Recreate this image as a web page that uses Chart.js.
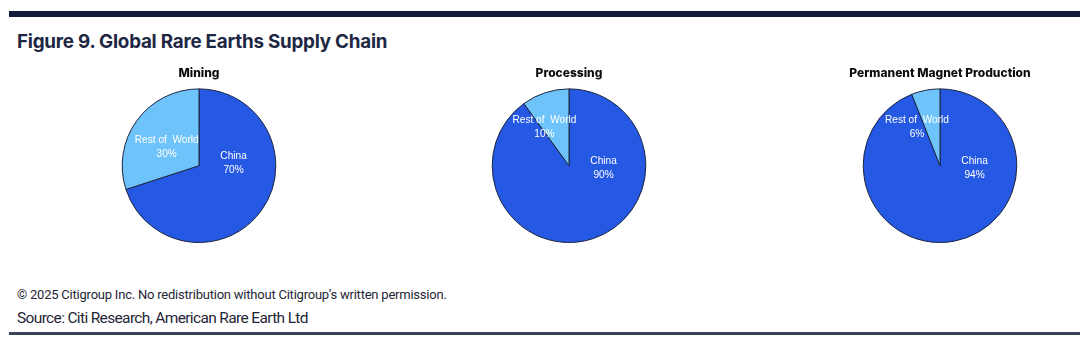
<!DOCTYPE html>
<html>
<head>
<meta charset="utf-8">
<script src="https://cdn.jsdelivr.net/npm/chart.js@4.4.1/dist/chart.umd.min.js"></script>
<style>
  html, body { margin:0; padding:0; background:#fff; width:1080px; height:345px; overflow:hidden; }
  #topbar { position:absolute; left:9px; top:11px; width:1071px; height:6px; background:#121b3b; }
  #title { position:absolute; left:17px; top:30px; font-family:Inter, "Noto Sans", sans-serif; font-weight:700; font-size:18.8px; color:#1d2744; white-space:nowrap; letter-spacing:-0.22px; }
  .box { position:absolute; top:62px; width:240px; height:182px; }
  #copy { position:absolute; left:17px; top:287px; font-family:Roboto, "Noto Sans", sans-serif; font-size:13px; color:#1f2637; white-space:nowrap; letter-spacing:-0.22px; }
  #source { position:absolute; left:17px; top:309px; font-family:Roboto, "Noto Sans", sans-serif; font-size:15.5px; color:#1f2637; white-space:nowrap; letter-spacing:-0.65px; }
  #botbar { position:absolute; left:9px; top:332px; width:1071px; height:3px; background:#3b4256; }
</style>
</head>
<body>
<div id="topbar"></div>
<div id="title">Figure 9. Global Rare Earths Supply Chain</div>
<div class="box" style="left:79px"><canvas id="c0"></canvas></div>
<div class="box" style="left:449px"><canvas id="c1"></canvas></div>
<div class="box" style="left:820px"><canvas id="c2"></canvas></div>
<div id="copy">© 2025 Citigroup Inc. No redistribution without Citigroup’s written permission.</div>
<div id="source">Source: Citi Research, American Rare Earth Ltd</div>
<div id="botbar"></div>
<script>
// ---- data ----
const categories = ["China", "Rest of World"];
const chartTitles = ["Mining", "Processing", "Permanent Magnet Production"];
const miningShares = [70, 30];
const processingShares = [90, 10];
const magnetShares = [94, 6];
const seriesList = [miningShares, processingShares, magnetShares];

// ---- styles ----
const sliceColors = ["#2659e3", "#6fc3fb"];
// label offsets (relative to pie centre, in fractions of radius) per chart, per slice
const labelOffsets = [
  [[0.45, -0.04], [-0.42, -0.25]],
  [[0.45, 0.03], [-0.32, -0.5]],
  [[0.45, 0.03], [-0.30, -0.5]]
];

const labelPlugin = {
  id: 'sliceLabels',
  afterDatasetsDraw(chart, args, opts) {
    const ctx = chart.ctx;
    const meta = chart.getDatasetMeta(0);
    const ds = chart.data.datasets[0];
    meta.data.forEach((arc, i) => {
      const r = arc.outerRadius;
      const off = opts.offsets[i];
      const x = arc.x + off[0] * r;
      const y = arc.y + off[1] * r;
      const name = chart.data.labels[i] === "Rest of World" ? "Rest of  World" : chart.data.labels[i];
      ctx.save();
      ctx.translate(x, y);
      ctx.scale(0.88, 1);
      ctx.fillStyle = '#ffffff';
      ctx.font = '11.5px "Liberation Sans", Arial, sans-serif';
      ctx.textAlign = 'center';
      ctx.textBaseline = 'middle';
      ctx.fillText(name, 0, -7);
      ctx.fillText(ds.data[i] + '%', 0, 7);
      ctx.restore();
    });
  }
};

seriesList.forEach((values, k) => {
  new Chart(document.getElementById('c' + k), {
    type: 'pie',
    data: {
      labels: categories,
      datasets: [{
        data: values,
        backgroundColor: sliceColors,
        borderColor: '#1b2540',
        borderWidth: 1
      }]
    },
    options: {
      responsive: true,
      maintainAspectRatio: false,
      animation: false,
      layout: { padding: { bottom: 1 } },
      plugins: {
        legend: { display: false },
        tooltip: { enabled: false },
        title: {
          display: true,
          text: chartTitles[k],
          color: '#0d0d0d',
          font: { family: 'Inter, "Noto Sans", sans-serif', size: 12, weight: '800' },
          padding: { top: 4, bottom: 8 }
        },
        sliceLabels: { offsets: labelOffsets[k] }
      }
    },
    plugins: [labelPlugin]
  });
});
</script>
</body>
</html>
